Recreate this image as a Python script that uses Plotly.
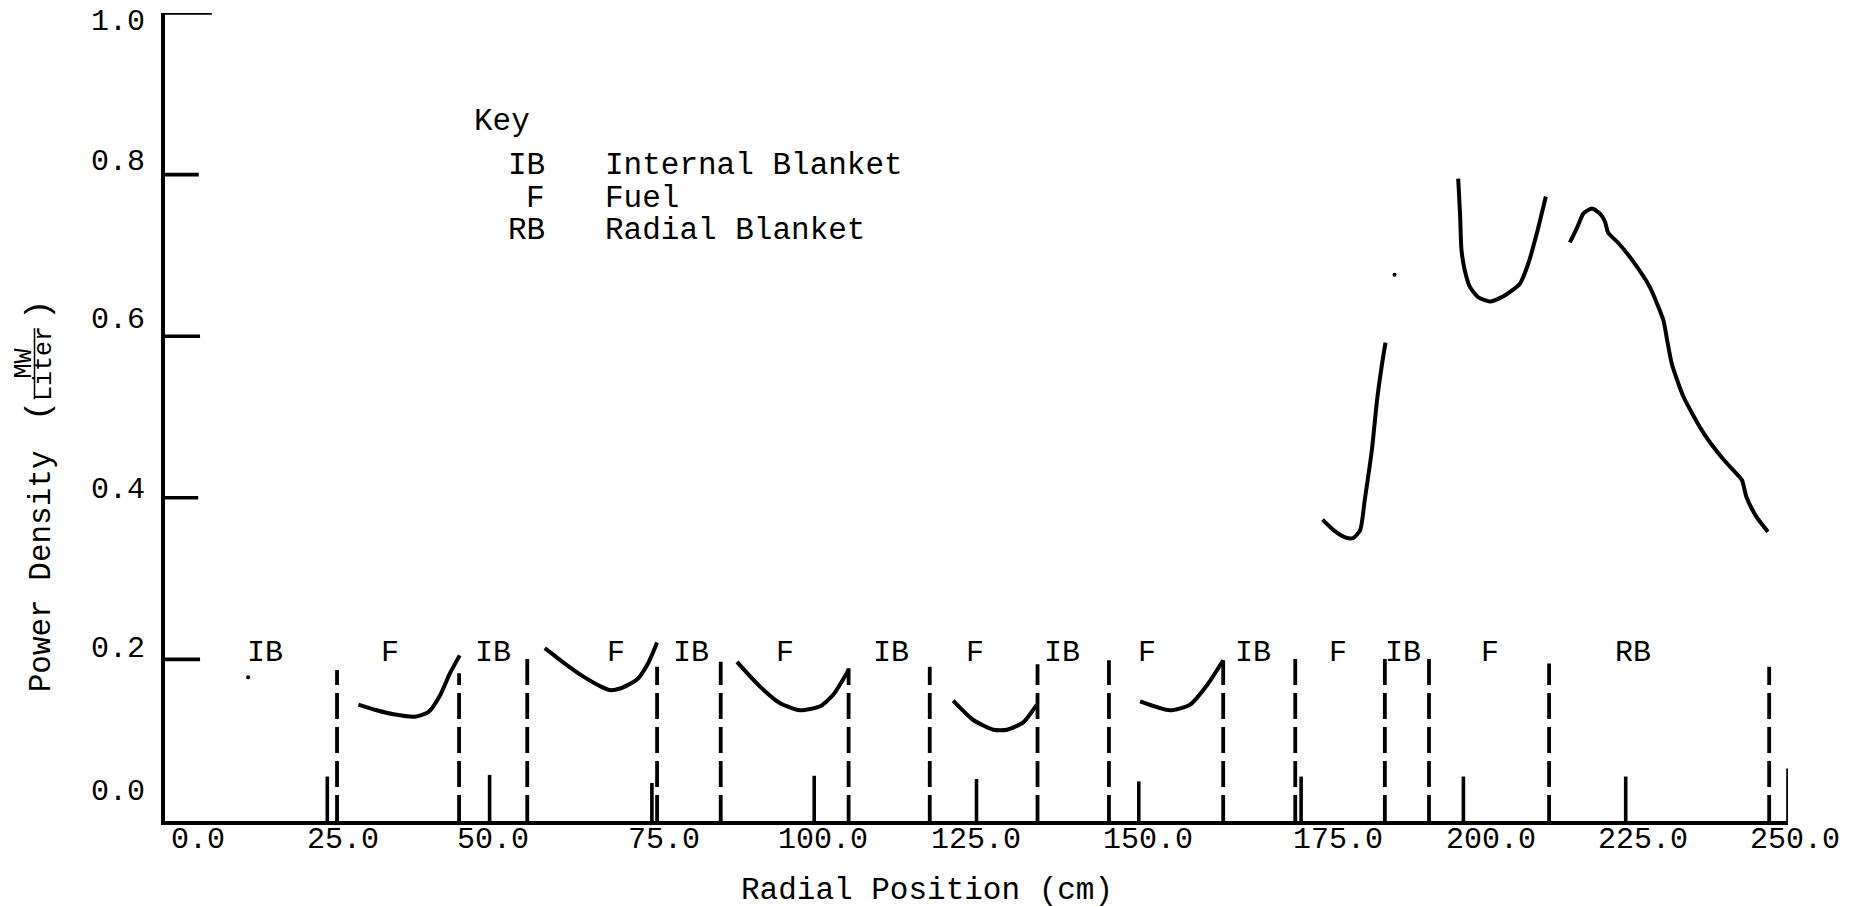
import plotly.graph_objects as go

FONT = "Liberation Mono, Courier New, monospace"

# ---- data ----
curve1_x = [29.8, 32.6, 35.2, 38.5, 40.6, 42.4, 43.9, 45.4]
curve1_y = [0.144, 0.137, 0.132, 0.129, 0.135, 0.156, 0.183, 0.205]
curve2_x = [58.5, 61.9, 64.4, 67.0, 68.5, 70.1, 72.7, 74.4, 75.8]
curve2_y = [0.214, 0.193, 0.179, 0.167, 0.162, 0.164, 0.175, 0.195, 0.221]
curve3_x = [88.1, 91.7, 94.7, 97.8, 100.9, 102.9, 105.3]
curve3_y = [0.197, 0.166, 0.146, 0.137, 0.142, 0.156, 0.187]
curve4_x = [121.4, 124.5, 127.6, 129.7, 132.2, 134.3]
curve4_y = [0.149, 0.125, 0.113, 0.113, 0.122, 0.144]
curve5_x = [150.2, 154.8, 157.9, 160.5, 163.0]
curve5_y = [0.148, 0.137, 0.144, 0.168, 0.199]
curve6_x = [178.3, 180.0, 181.8, 183.0, 184.1, 184.8, 185.9, 186.7, 187.4, 188.0]
curve6_y = [0.373, 0.360, 0.351, 0.350, 0.360, 0.397, 0.459, 0.521, 0.562, 0.592]
curve7_x = [199.2, 199.5, 199.7, 200.2, 201.0, 202.3, 204.1, 206.1, 208.7, 210.0, 211.3, 212.7]
curve7_y = [0.795, 0.748, 0.707, 0.682, 0.661, 0.648, 0.643, 0.649, 0.665, 0.690, 0.727, 0.773]
curve8_x = [216.4, 217.5, 218.5, 219.8, 221.0, 221.8, 222.3, 223.9, 226.2, 228.7, 230.8,
            231.3, 232.1, 233.9, 237.0, 240.1, 241.6, 242.9, 243.6, 245.1, 246.9]
curve8_y = [0.716, 0.734, 0.752, 0.758, 0.752, 0.742, 0.728, 0.715, 0.692, 0.661, 0.620,
            0.599, 0.566, 0.525, 0.480, 0.447, 0.434, 0.422, 0.401, 0.377, 0.358]

specks_x = [189.4, 12.8]
specks_y = [0.676, 0.178]

boundary_x = [26.5, 45.3, 55.8, 75.8, 85.6, 105.3, 117.8, 134.4, 145.4, 163.0,
              174.1, 187.9, 194.7, 213.2, 247.1]
boundary_top = [0.187, 0.183, 0.208, 0.191, 0.197, 0.189, 0.191, 0.194, 0.199, 0.199,
                0.203, 0.208, 0.208, 0.195, 0.191]

region_labels = ["IB", "F", "IB", "F", "IB", "F", "IB", "F", "IB", "F", "IB", "F", "IB", "F", "RB"]
region_label_x = [15.4, 34.7, 50.5, 69.4, 81.0, 95.5, 111.8, 124.8, 138.2, 151.2,
                  167.6, 180.7, 190.7, 204.1, 226.1]
region_label_y = 0.208

xtick_vals = [25, 50, 75, 100, 125, 150, 175, 200, 225, 250]
xtick_h = [0.055, 0.057, 0.047, 0.056, 0.052, 0.049, 0.055, 0.055, 0.055, 0.065]
xtick_labels = ["0.0", "25.0", "50.0", "75.0", "100.0", "125.0", "150.0", "175.0",
                "200.0", "225.0", "250.0"]
xtick_label_x = [5.1, 27.4, 50.5, 76.9, 101.4, 124.9, 151.4, 180.7, 204.2, 227.7, 251.1]

ytick_vals = [0.2, 0.4, 0.6, 0.8, 1.0]
ytick_len = [5.4, 5.1, 5.4, 5.2, 7.2]
ytick_labels = ["0.0", "0.2", "0.4", "0.6", "0.8", "1.0"]
ytick_label_y = [0.036, 0.213, 0.410, 0.620, 0.816, 0.989]

key_codes = ["IB", "F", "RB"]
key_names = ["Internal Blanket", "Fuel", "Radial Blanket"]
key_y = [0.811, 0.771, 0.731]

X_MAX = 250.0


def px(x):
    """data x -> paper fraction"""
    return x / X_MAX


fig = go.Figure()

# region boundaries (dashed)
bx, by = [], []
for x, t in zip(boundary_x, boundary_top):
    bx += [x, x, None]
    by += [0, t, None]
fig.add_trace(go.Scatter(x=bx, y=by, mode="lines",
                         line=dict(color="black", width=3.8, dash="26px,8px"),
                         hoverinfo="skip"))

# x tick marks
tx, ty = [], []
for x, h in zip(xtick_vals, xtick_h):
    tx += [x, x, None]
    ty += [0, h, None]
fig.add_trace(go.Scatter(x=tx, y=ty, mode="lines",
                         line=dict(color="black", width=3.6), hoverinfo="skip",
                         cliponaxis=False))

# y tick marks
yx, yy = [], []
for y, l in zip(ytick_vals, ytick_len):
    yx += [0, l, None]
    yy += [y, y, None]
fig.add_trace(go.Scatter(x=yx, y=yy, mode="lines",
                         line=dict(color="black", width=3.6), hoverinfo="skip",
                         cliponaxis=False))

# power density curves
for cx, cy in [(curve1_x, curve1_y), (curve2_x, curve2_y), (curve3_x, curve3_y),
               (curve4_x, curve4_y), (curve5_x, curve5_y), (curve6_x, curve6_y),
               (curve7_x, curve7_y), (curve8_x, curve8_y)]:
    fig.add_trace(go.Scatter(x=cx, y=cy, mode="lines",
                             line=dict(color="black", width=4, shape="spline", smoothing=0.6),
                             hoverinfo="skip"))

fig.add_trace(go.Scatter(x=specks_x, y=specks_y, mode="markers",
                         marker=dict(color="black", size=4), hoverinfo="skip"))


def note(x, y, text, size=30, xanchor="center", angle=0):
    return dict(x=x, y=y, xref="paper", yref="paper", text=text, showarrow=False,
                xanchor=xanchor, yanchor="middle", textangle=angle,
                font=dict(size=size, family=FONT, color="black"))


ann = []
for lbl, x in zip(region_labels, region_label_x):
    ann.append(note(px(x), region_label_y, lbl, size=30))
for lbl, x in zip(xtick_labels, xtick_label_x):
    ann.append(note(px(x), -0.0235, lbl, size=30))
for lbl, y in zip(ytick_labels, ytick_label_y):
    ann.append(note(px(-2.8), y, lbl, size=30, xanchor="right"))
ann.append(note(px(117.4), -0.0854, "Radial Position (cm)", size=31))
# key
ann.append(note(px(47.3), 0.866, "Key", size=31, xanchor="left"))
for code, name, y in zip(key_codes, key_names, key_y):
    ann.append(note(px(58.8), y, code, size=31, xanchor="right"))
    ann.append(note(px(67.4), y, name, size=31, xanchor="left"))
# y axis title (rotated pieces)
ann.append(note(px(-19.1), 0.309, "Power Density", size=31, angle=-90))
ann.append(note(px(-19.3), 0.507, "(", size=34, angle=-90))
ann.append(note(px(-19.3), 0.632, ")", size=34, angle=-90))
ann.append(note(px(-21.6), 0.566, "MW", size=25, angle=-90))
ann.append(note(px(-18.6), 0.566, "Liter", size=25, angle=-90))

fig.update_layout(
    width=1864, height=907,
    margin=dict(l=165, r=76, t=13, b=86),
    paper_bgcolor="white", plot_bgcolor="white",
    showlegend=False,
    font=dict(family=FONT, color="black"),
    annotations=ann,
    shapes=[dict(type="line", xref="paper", yref="paper",
                 x0=px(-20.1), x1=px(-20.1), y0=0.522, y1=0.610,
                 line=dict(color="black", width=1.5))],
    xaxis=dict(range=[0, X_MAX], showgrid=False, zeroline=False, showticklabels=False,
               ticks="", showline=True, linewidth=3.6, linecolor="black"),
    yaxis=dict(range=[0, 1.0], showgrid=False, zeroline=False, showticklabels=False,
               ticks="", showline=True, linewidth=3.6, linecolor="black"),
)

fig.write_html("out.html")
